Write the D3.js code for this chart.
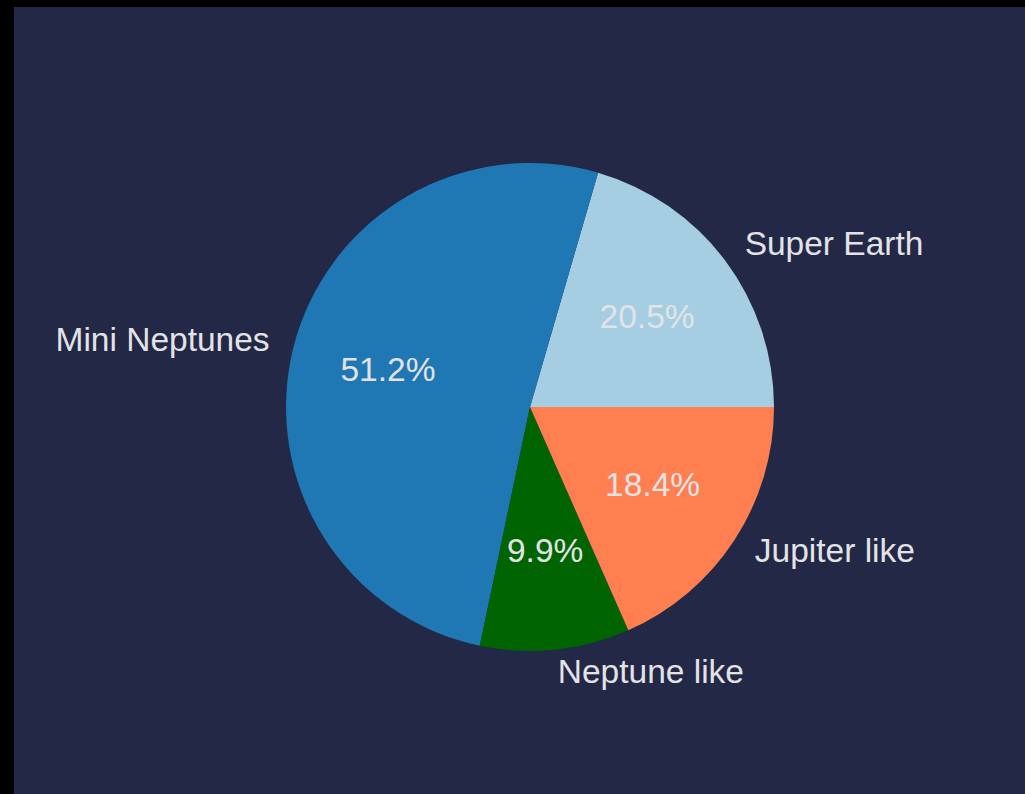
<!DOCTYPE html>
<html><head><meta charset="utf-8">
<script src="https://cdn.jsdelivr.net/npm/d3@7"></script>
<style>html,body{margin:0;padding:0;background:#000;}svg{display:block;}</style>
</head><body>
<svg id="c" width="1025" height="794"></svg>
<script>
const categories = ["Super Earth", "Mini Neptunes", "Neptune like", "Jupiter like"];
const values = [20.5, 51.2, 9.9, 18.4];
const colors = ["#a6cee3", "#1f77b4", "#006400", "#ff7f50"];

const svg = d3.select("#c");
svg.append("rect").attr("x", 14).attr("y", 7).attr("width", 1011).attr("height", 787).attr("fill", "#222845");

const cx = 530, cy = 407, R = 244;
const g = svg.append("g").attr("transform", `translate(${cx},${cy})`);
// matplotlib-style: start at 3 o'clock, counterclockwise
const pie = d3.pie().sort(null).value(d => d)
  .startAngle(Math.PI / 2).endAngle(Math.PI / 2 - 2 * Math.PI);
const arcs = pie(values);
const arc = d3.arc().innerRadius(0).outerRadius(R);
g.selectAll("path.slice").data(arcs).enter().append("path")
  .attr("class", "slice").attr("d", arc).attr("fill", (d, i) => colors[i]);

const total = d3.sum(values);
const mid = d => (d.startAngle + d.endAngle) / 2;
const txt = "#e3e3e6";
const fam = "'Liberation Sans', Arial, sans-serif";
const fs = 33.5;
g.selectAll("text.lab").data(arcs).enter().append("text")
  .attr("class", "lab")
  .attr("x", d => Math.sin(mid(d)) * R * 1.1)
  .attr("y", d => -Math.cos(mid(d)) * R * 1.1)
  .attr("dy", "0.26em")
  .attr("text-anchor", d => Math.sin(mid(d)) >= 0 ? "start" : "end")
  .attr("font-family", fam)
  .attr("font-size", fs).attr("fill", txt)
  .text((d, i) => categories[i]);
g.selectAll("text.pct").data(arcs).enter().append("text")
  .attr("class", "pct")
  .attr("x", d => Math.sin(mid(d)) * R * 0.6)
  .attr("y", d => -Math.cos(mid(d)) * R * 0.6)
  .attr("dy", "0.28em")
  .attr("text-anchor", "middle")
  .attr("font-family", fam)
  .attr("font-size", fs).attr("fill", txt)
  .text(d => (d.value / total * 100).toFixed(1) + "%");
</script>
</body></html>
